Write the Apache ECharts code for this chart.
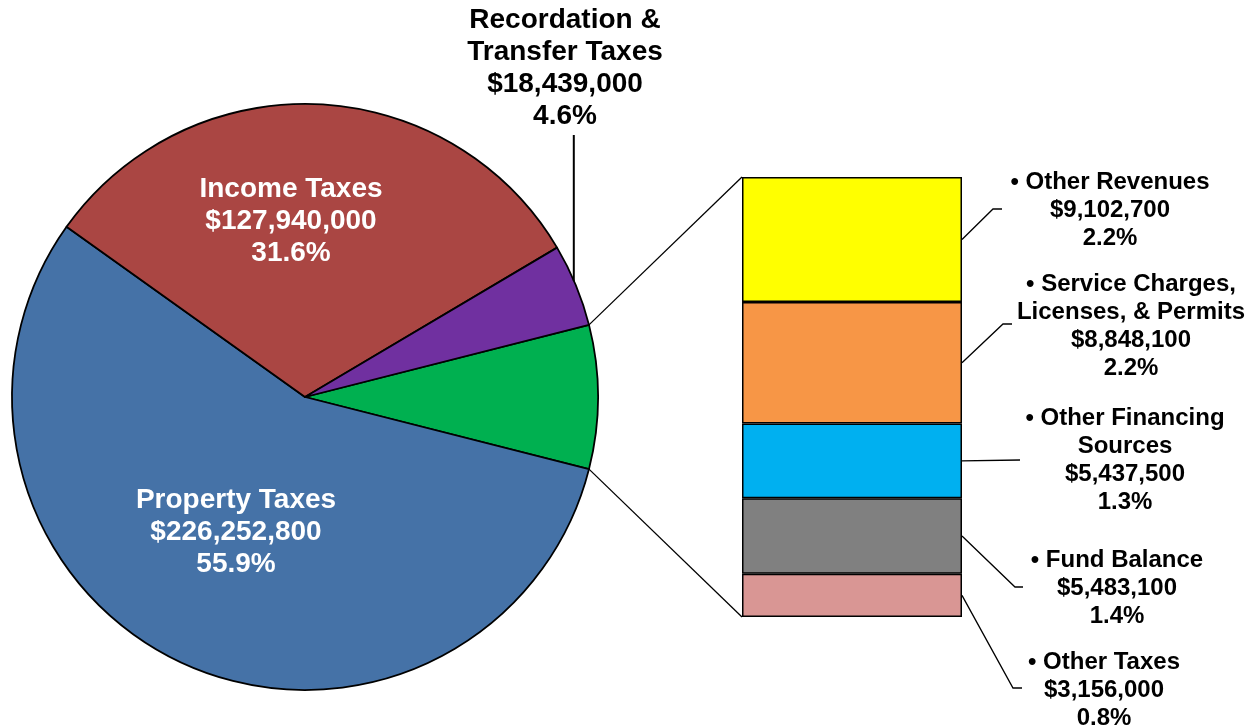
<!DOCTYPE html>
<html><head><meta charset="utf-8">
<script src="https://cdn.jsdelivr.net/npm/echarts@6/dist/echarts.min.js"></script>
<style>html,body{margin:0;padding:0;background:#fff}#c{width:1251px;height:727px}</style>
</head><body><div id="c"></div>
<script>
// ---- data ----
const pieNames = ['Property Taxes', 'Income Taxes', 'Recordation &\nTransfer Taxes'];
const pieValues = [226252800, 127940000, 18439000];
const otherName = 'Other';
const barNames = ['Other Taxes', 'Fund Balance', 'Other Financing\nSources', 'Service Charges,\nLicenses, & Permits', 'Other Revenues'];
const barValues = [3156000, 5483100, 5437500, 8848100, 9102700];

// ---- styles ----
const pieColors = ['#4572A7', '#AA4643', '#7030A0'];
const otherColor = '#00B050';
const barColors = ['#D99694', '#808080', '#00B0F0', '#F79646', '#FFFF00'];
const FONT = 'Liberation Sans, Arial, sans-serif';

// ---- layout ----
const CX = 305, CY = 397, R = 293;
const GRID = {left: 742, top: 177, width: 220, height: 440};
const pieLabelPos = [[236, 532], [291, 221], [565, 68]];
const recLineTop = 135;
const barLabelPos = [[1104, 690], [1117, 588], [1125, 460], [1131, 326], [1110, 210]];
const barElbow = [[1013, 688, 1022], [1015, 587, 1023], [1020, 460, 1020], [1003, 324, 1012], [993, 209, 1002]];

const otherSum = barValues.reduce((a, b) => a + b, 0);
const grand = otherSum + pieValues.reduce((a, b) => a + b, 0);
const pct = v => (v / grand * 100).toFixed(1) + '%';
const money = v => '$' + v.toLocaleString('en-US');
const startAngle = otherSum / grand * 360 / 2;

const chart = echarts.init(document.getElementById('c'), null, {renderer: 'canvas'});

const pieData = [{name: otherName, value: otherSum, itemStyle: {color: otherColor}, label: {show: false}}]
  .concat(pieNames.map((n, i) => ({
    name: n, value: pieValues[i], itemStyle: {color: pieColors[i]},
    label: {show: true, color: i < 2 ? '#fff' : '#000', lineHeight: i < 2 ? 32 : 32}
  })));

const series = [{
  type: 'pie', center: [CX, CY], radius: R, startAngle: startAngle, clockwise: true,
  animation: false, silent: true,
  itemStyle: {borderColor: '#000', borderWidth: 1.8},
  label: {position: 'inside', fontFamily: FONT, fontWeight: 'bold', fontSize: 28,
    formatter: p => p.name + '\n' + money(p.value) + '\n' + pct(p.value)},
  labelLine: {show: false},
  labelLayout: p => {
    if (p.dataIndex === 0) return {};
    const q = pieLabelPos[p.dataIndex - 1];
    return {x: q[0], y: q[1], align: 'center', verticalAlign: 'middle'};
  },
  emphasis: {disabled: true},
  data: pieData
}].concat(barValues.map((v, i) => ({
  type: 'bar', stack: 's', name: barNames[i], data: [v], barWidth: '100%',
  animation: false, silent: true,
  itemStyle: {color: barColors[i], borderColor: '#000', borderWidth: 1.5},
  label: {show: true, position: 'right', color: '#000', fontFamily: FONT, fontWeight: 'bold',
    fontSize: 24, lineHeight: 28, align: 'center',
    formatter: p => '\u2022 ' + p.seriesName + '\n' + money(p.value) + '\n' + pct(p.value)},
  labelLayout: () => ({x: barLabelPos[i][0], y: barLabelPos[i][1], align: 'center', verticalAlign: 'middle'}),
  emphasis: {disabled: true}
})));

chart.setOption({
  backgroundColor: '#fff',
  animation: false,
  grid: {left: GRID.left, top: GRID.top, width: GRID.width, height: GRID.height},
  xAxis: {type: 'category', data: [otherName], show: false},
  yAxis: {type: 'value', min: 0, max: otherSum, show: false},
  series: series
});

// ---- connector and leader lines ----
const rad = d => d * Math.PI / 180;
const piePt = a => [CX + R * Math.cos(rad(a)), CY - R * Math.sin(rad(a))];
const p0 = piePt(startAngle), p1 = piePt(-startAngle);
const yTop = chart.convertToPixel({yAxisIndex: 0}, otherSum);
const yBot = chart.convertToPixel({yAxisIndex: 0}, 0);
const lineStyle = {stroke: '#000', lineWidth: 1.3, fill: null};
const graphics = [
  {type: 'polyline', z: 100, shape: {points: [p0, [GRID.left, yTop]]}, style: lineStyle},
  {type: 'polyline', z: 100, shape: {points: [p1, [GRID.left, yBot]]}, style: lineStyle}
];
// Recordation leader
const recMid = startAngle - (otherSum + pieValues[0] + pieValues[1] + pieValues[2] / 2) / grand * 360;
const rp = piePt(recMid);
graphics.push({type: 'polyline', z: 100, shape: {points: [[rp[0] - 2, rp[1] - 4], [rp[0] - 2, recLineTop]]}, style: {stroke: '#000', lineWidth: 2, fill: null}});
// bar leaders
let cum = 0;
barValues.forEach((v, i) => {
  const y = chart.convertToPixel({yAxisIndex: 0}, cum + v / 2);
  cum += v;
  const e = barElbow[i];
  graphics.push({type: 'polyline', z: 100,
    shape: {points: [[GRID.left + GRID.width, y], [e[0], e[1]], [e[2], e[1]]]}, style: lineStyle});
});
chart.setOption({graphic: graphics});
</script>
</body></html>
